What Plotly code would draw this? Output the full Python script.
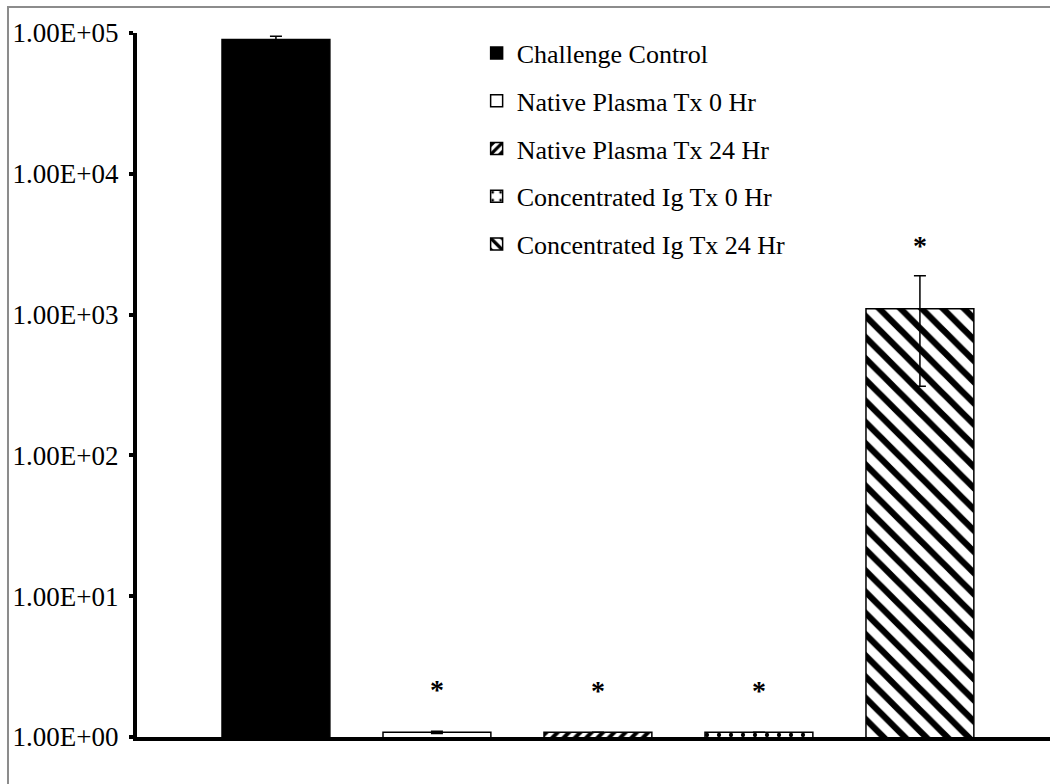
import math
import plotly.graph_objects as go

# Treatment groups and measured titres (log-scale y axis)
groups = [
    "Challenge Control",
    "Native Plasma Tx 0 Hr",
    "Native Plasma Tx 24 Hr",
    "Concentrated Ig Tx 0 Hr",
    "Concentrated Ig Tx 24 Hr",
]
values = [90000, 1.08, 1.08, 1.08, 1100]
errors = [5000, 0.02, 0.0, 0.0, 790]
significant = [False, True, True, True, True]

tick_values = [1, 10, 100, 1000, 10000, 100000]
tick_labels = ["1.00E+00", "1.00E+01", "1.00E+02", "1.00E+03", "1.00E+04", "1.00E+05"]

FONT = "Liberation Serif, Times New Roman, serif"

fills = [
    dict(color="black", pattern=dict(shape="")),
    dict(color="white", pattern=dict(shape="")),
    dict(color="white", pattern=dict(shape="/", fgcolor="black", bgcolor="white",
                                     fgopacity=1, size=8, solidity=0.5)),
    dict(color="white", pattern=dict(shape=".", fgcolor="black", bgcolor="white",
                                     fgopacity=1, size=12, solidity=0.1)),
    dict(color="white", pattern=dict(shape="\\", fgcolor="black", bgcolor="white",
                                     fgopacity=1, size=15, solidity=0.42)),
]

fig = go.Figure()
for i, name in enumerate(groups):
    fig.add_trace(go.Bar(
        x=[name],
        y=[values[i]],
        name=name,
        legendgroup=name,
        width=0.67,
        opacity=1,
        marker=dict(color=fills[i]["color"], pattern=fills[i]["pattern"],
                    line=dict(color="black", width=1.5)),
        error_y=dict(type="data", array=[errors[i]], visible=True,
                     color="black", thickness=1.5, width=6),
    ))

# significance markers above each treated group
for i, name in enumerate(groups):
    if significant[i]:
        top = values[i] + errors[i]
        fig.add_annotation(
            x=name, y=math.log10(top), xref="x", yref="y",
            text="<b>*</b>", showarrow=False,
            yanchor="middle", yshift=42 if top < 10 else 30,
            font=dict(family=FONT, size=28, color="black"),
        )

# outer frame around the chart
fig.add_shape(type="rect", xref="paper", yref="paper",
              x0=-0.1413, x1=1.05, y0=-0.2, y1=1.0369,
              line=dict(color="#8c8c8c", width=2), fillcolor="rgba(0,0,0,0)",
              layer="below")

fig.update_layout(
    width=1050, height=784,
    margin=dict(l=137, r=0, t=33, b=47),
    paper_bgcolor="white", plot_bgcolor="white",
    barmode="overlay",
    showlegend=True,
    legend=dict(
        x=0.372, y=1.005, xanchor="left", yanchor="top",
        font=dict(family=FONT, size=26, color="black"),
        tracegroupgap=11,
        bgcolor="rgba(0,0,0,0)",
        itemwidth=30,
    ),
    font=dict(family=FONT, size=26, color="black"),
)

fig.update_xaxes(
    type="category",
    range=[-0.863, 4.808],
    showticklabels=False, ticks="",
    showline=True, linecolor="black", linewidth=4,
    showgrid=False, zeroline=False,
)
fig.update_yaxes(
    type="log", range=[0, 5],
    tickvals=tick_values, ticktext=tick_labels,
    ticks="outside", ticklen=4, tickwidth=4, tickcolor="black",
    ticklabelstandoff=5,
    showline=True, linecolor="black", linewidth=4,
    showgrid=False, zeroline=False,
    tickfont=dict(family=FONT, size=27, color="black"),
)

fig.write_html("out.html")
